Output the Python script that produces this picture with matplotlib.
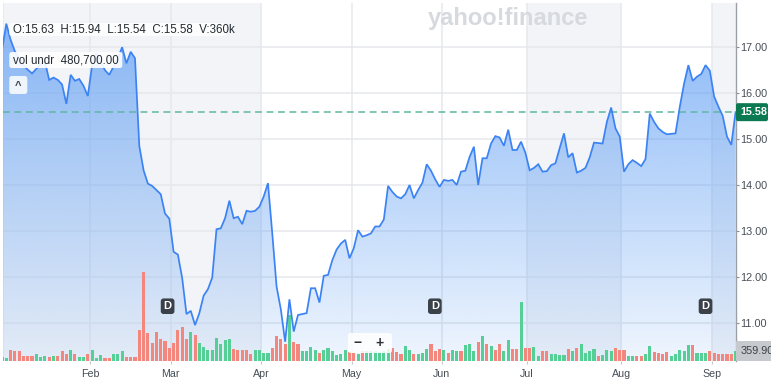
import matplotlib.pyplot as plt
import numpy as np
from matplotlib.patches import FancyBboxPatch, Rectangle
from matplotlib.transforms import blended_transform_factory

plt.rcParams["font.family"] = ["Liberation Sans", "DejaVu Sans"]

W, H = 780, 381

# daily closes, one per trading session (index = session number)
price = [
    16.93, 17.50, 17.15, 16.90, 16.75, 16.60, 16.50, 16.42, 16.52, 16.62,
    16.68, 16.28, 16.33, 16.28, 16.18, 15.76, 16.39, 16.26, 16.30, 16.15,
    15.93, 16.60, 16.86, 16.67, 16.49, 16.39, 16.57, 16.75, 16.99, 16.64,
    16.89, 16.75, 14.85, 14.32, 14.03, 13.98, 13.89, 13.80, 13.38, 13.27,
    12.55, 12.49, 11.98, 11.20, 11.27, 10.96, 11.22, 11.60, 11.74, 11.99,
    13.04, 13.06, 13.28, 13.66, 13.28, 13.31, 13.15, 13.44, 13.42, 13.44,
    13.53, 13.75, 14.04, 12.95, 11.80, 11.30, 10.60, 11.52, 10.82, 11.18,
    11.20, 11.22, 11.76, 11.76, 11.45, 12.03, 12.05, 12.37, 12.60, 12.73,
    12.81, 12.41, 12.63, 13.02, 12.88, 12.91, 12.95, 13.10, 13.10, 13.25,
    13.98, 13.85, 13.75, 13.71, 13.80, 14.00, 13.71, 13.89, 14.05, 14.45,
    14.31, 14.12, 13.96, 14.11, 14.09, 14.11, 14.00, 14.29, 14.31, 14.61,
    14.83, 14.00, 14.58, 14.58, 14.90, 15.06, 15.03, 14.85, 15.20, 14.76,
    14.76, 14.94, 14.70, 14.32, 14.37, 14.45, 14.29, 14.30, 14.43, 14.47,
    14.80, 15.12, 14.60, 14.69, 14.27, 14.31, 14.37, 14.60, 14.92, 14.91,
    14.90, 15.37, 15.68, 15.23, 15.05, 14.29, 14.45, 14.54, 14.48, 14.41,
    14.56, 15.55, 15.37, 15.23, 15.15, 15.10, 15.11, 15.12, 15.70, 16.20,
    16.60, 16.26, 16.35, 16.41, 16.60, 16.48, 15.92, 15.70, 15.50, 15.05,
    14.87, 15.58,
]

# volume in thousands of shares
volume_k = [
    130, 120, 408, 348, 348, 192, 192, 192, 240, 144,
    192, 144, 192, 168, 348, 264, 384, 264, 144, 144,
    240, 384, 120, 204, 120, 120, 240, 240, 360, 144,
    144, 144, 1128, 3190, 1008, 660, 1044, 780, 720, 480,
    648, 1104, 1224, 804, 1044, 924, 648, 504, 384, 384,
    840, 624, 744, 792, 444, 408, 408, 384, 240, 408,
    384, 300, 288, 480, 888, 804, 600, 1644, 684, 624,
    360, 360, 504, 408, 288, 384, 480, 360, 216, 240,
    408, 324, 288, 264, 360, 360, 360, 360, 324, 360,
    444, 480, 324, 264, 528, 384, 240, 240, 288, 444,
    600, 360, 444, 408, 288, 384, 360, 360, 564, 624,
    360, 684, 888, 624, 540, 384, 600, 360, 744, 444,
    444, 2124, 480, 468, 504, 168, 360, 360, 240, 264,
    204, 204, 444, 360, 480, 624, 288, 360, 444, 168,
    204, 408, 360, 480, 408, 408, 168, 168, 168, 168,
    264, 528, 324, 288, 240, 324, 168, 264, 408, 360,
    564, 564, 288, 288, 288, 360, 288, 264, 240, 264,
    264, 360,
]

# g = up session, r = down session
volume_dir = (
    "ggrrrrrrgg" "grgrrrgrgg" "rgggrrgggr" "rrrrrrrrrr"
    "rrrrgrgggg" "ggggrrrrrg" "gggrrrrgrr" "ggggrggggg"
    "grrgrggggg" "grrrggrggg" "rrrgrggrgg" "grgrgrrggr"
    "rgrrggrrgg" "ggrgrggggr" "gggrrrggrr" "ggrrrrgggg"
    "grgggrrrrr" "rg"
)

month_pos = [20.5, 39.3, 60.4, 81.5, 102.5, 122.4, 144.4, 165.4]
month_labels = ["Feb", "Mar", "Apr", "May", "Jun", "Jul", "Aug", "Sep"]
price_ticks = [11, 12, 13, 14, 15, 16, 17]
dividend_pos = [38.6, 100.9, 164.0]

last_close = 15.58
last_volume_label = "359.90"
ohlc_label = "O:15.63  H:15.94  L:15.54  C:15.58  V:360k"
vol_under_label = "vol undr  480,700.00"

LINE = "#3b83f4"
FILL = np.array([91, 156, 244]) / 255
GRID = "#e5e8ec"
BAND = "#f2f4f7"
UP = "#55cf95"
DOWN = "#f3877d"
TEXT = "#464e56"

X_LO, X_HI = 0.23, 171.1
Y_LO, Y_HI = 10.182, 17.948
VOL_HI = 358 * 36


def fx(x):
    return x / W


def fy(y):
    return 1 - y / H


def rbox(x0, y0, x1, y1, fc, alpha=1.0, r=2.5, z=5):
    # rounded box in screen pixels (y measured from the top)
    patch = FancyBboxPatch(
        (x0 / 100, (H - y1) / 100), (x1 - x0) / 100, (y1 - y0) / 100,
        boxstyle=f"round,pad=0,rounding_size={r / 100}",
        transform=fig.dpi_scale_trans, fc=fc, ec="none", alpha=alpha, zorder=z,
    )
    fig.add_artist(patch)


fig = plt.figure(figsize=(W / 100, H / 100), dpi=100)
fig.patch.set_facecolor("white")
ax = fig.add_axes([fx(3), fy(361), fx(733), (361 - 3) / H])

x = np.arange(len(price))

# shaded period bands
for a, b in [(X_LO, month_pos[2]), (month_pos[5], month_pos[6]), (month_pos[7], X_HI)]:
    ax.axvspan(a, b, color=BAND, lw=0, zorder=0)

for p in price_ticks:
    ax.axhline(p, color=GRID, lw=1.1, zorder=0.5)
for m in [X_LO + 0.05] + month_pos:
    ax.axvline(m, color=GRID, lw=1.1, zorder=0.5)

# gradient area under the price line
area = ax.fill_between(x, price, Y_LO, facecolor="none", edgecolor="none")
alpha = np.linspace(0.74, 0.10, 256)
rgba = np.zeros((256, 1, 4))
rgba[..., :3] = FILL
rgba[:, 0, 3] = alpha
im = ax.imshow(rgba, extent=[X_LO, X_HI, Y_LO, Y_HI], aspect="auto",
               origin="upper", zorder=1, interpolation="bilinear")
im.set_clip_path(area.get_paths()[0], transform=ax.transData)

ax.axhline(last_close, color="#5fb7a2", lw=1.1, dashes=(4.5, 3), zorder=2)

# volume bars on their own scale, price line drawn above them
ax_vol = ax.twinx()
colors = [UP if d == "g" else DOWN for d in volume_dir]
ax_vol.bar(x, volume_k, width=0.72, color=colors, lw=0, zorder=2)
ax_vol.plot(x, price, color=LINE, lw=1.25, transform=ax.transData, zorder=3,
            solid_joinstyle="miter")
ax_vol.set_xlim(X_LO, X_HI)
ax_vol.set_ylim(0, VOL_HI)
ax_vol.set_axis_off()

ax.set_xlim(X_LO, X_HI)
ax.set_ylim(Y_LO, Y_HI)
ax.set_xticks(month_pos)
ax.set_xticklabels(month_labels)
ax.tick_params(axis="x", length=2.5, width=0.8, color="#c3c7cc", labelsize=7.7,
               labelcolor=TEXT, pad=3)
ax.yaxis.tick_right()
ax.set_yticks(price_ticks)
ax.set_yticklabels([f"{p:.2f}" for p in price_ticks])
ax.tick_params(axis="y", which="both", left=False, labelleft=False, right=True,
               labelright=True, length=2, width=0.8, color="#8a9096",
               labelsize=7.8, labelcolor=TEXT, pad=1.2)
for side in ["top", "left", "bottom"]:
    ax.spines[side].set_visible(False)
ax.spines["right"].set_visible(True)
ax.spines["right"].set_color("#9aa0a6")
ax.spines["right"].set_linewidth(1.0)

# dividend markers
mark_tr = blended_transform_factory(ax.transData, ax.transAxes)
for d in dividend_pos:
    ax_vol.text(d, 0.153, "D", transform=mark_tr, ha="center", va="center",
                fontsize=8, fontweight="bold", color="white", zorder=6,
                bbox=dict(boxstyle="round,pad=0.25,rounding_size=0.25", fc="#3b4148", ec="none"))

# watermark
fig.text(fx(508), fy(18), "yahoo!finance", ha="center", va="center", fontsize=17,
         fontweight="bold", color="#d6d9dd", zorder=4)

# top-left info labels
rbox(9.3, 23, 226, 36, "white", 0.9)
fig.text(fx(12.7), fy(29.8), ohlc_label, ha="left", va="center", fontsize=8.3,
         color="#232a31", zorder=6)
rbox(9.3, 52, 122.3, 68, "white", 0.9)
fig.text(fx(12.7), fy(60.3), vol_under_label, ha="left", va="center", fontsize=8.3,
         color="#232a31", zorder=6)
rbox(9.3, 76, 27.3, 94, "white", 0.85)
fig.text(fx(18.3), fy(86), "^", ha="center", va="center", fontsize=8,
         fontweight="bold", color="#3b4148", zorder=6)

# zoom controls
rbox(348, 333, 392, 353, "white", 0.85)
fig.text(fx(358), fy(343), "\u2212", ha="center", va="center", fontsize=10,
         fontweight="bold", color="#2c3137", zorder=6)
fig.text(fx(379), fy(343), "+", ha="center", va="center", fontsize=10,
         fontweight="bold", color="#2c3137", zorder=6)

# right-hand value tags
fig.canvas.draw()
_, yp = ax.transData.transform((0, last_close))
yp = H - yp
rbox(736, yp - 9, 768, yp + 9, "#0b7a53", 1.0, r=2)
fig.text(fx(740.5), fy(yp), f"{last_close:.2f}", ha="left", va="center",
         fontsize=7.8, fontweight="bold", color="white", zorder=6)

_, yv = ax_vol.transData.transform((0, volume_k[-1]))
yv = H - yv
rbox(736, yv - 10, 772, yv + 10, "#c6c9cd", 1.0, r=1)
fig.text(fx(740.5), fy(yv), last_volume_label, ha="left", va="center",
         fontsize=7.8, color="#3b4149", zorder=6)
fig.add_artist(Rectangle((fx(771), 0), fx(9), 1, transform=fig.transFigure,
                         fc="white", ec="none", zorder=10))

fig.savefig("out.png", dpi=100)
